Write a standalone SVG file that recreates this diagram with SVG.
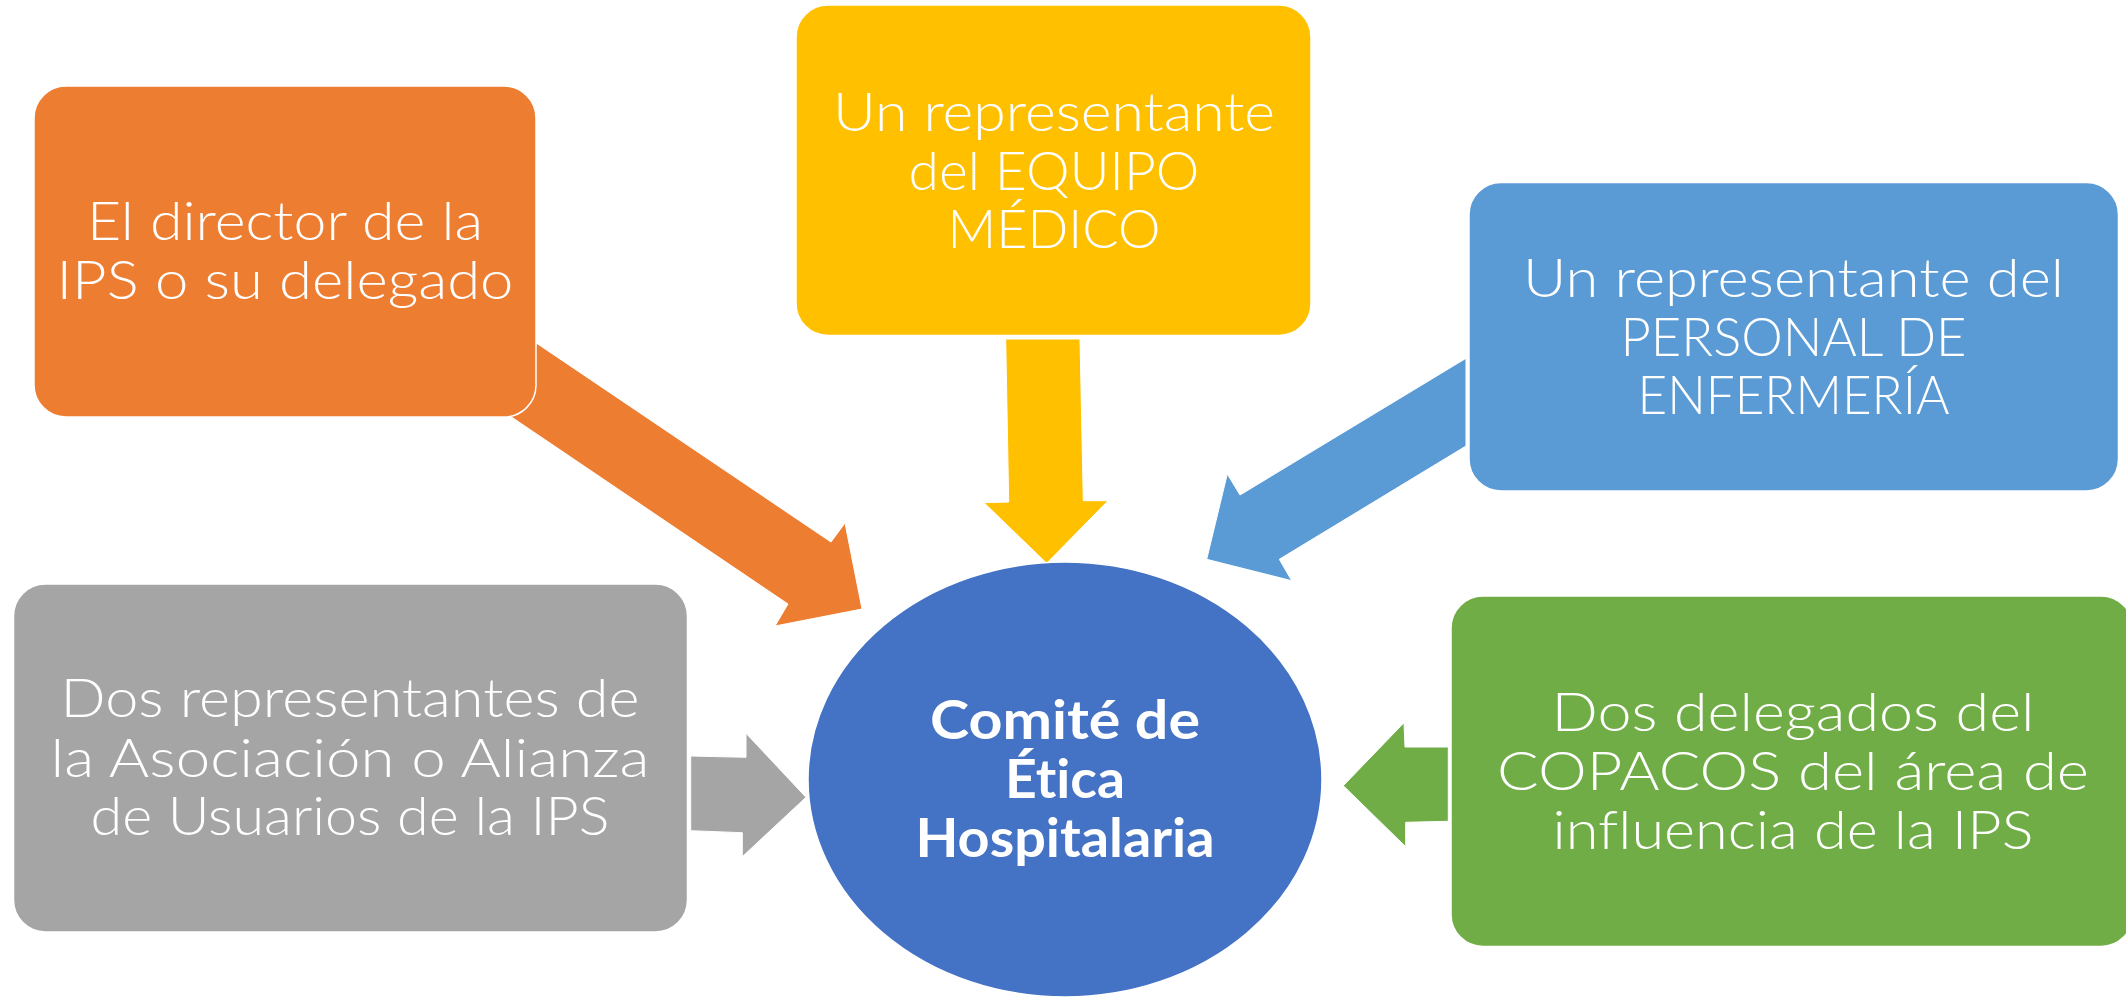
<svg xmlns="http://www.w3.org/2000/svg" width="2126" height="997" viewBox="0 0 2126 997">
<style>
.box{stroke:#ffffff;stroke-width:1.5}
.arr{stroke:#ffffff;stroke-width:1}
.t{font-family:Lato,"Open Sans","Noto Sans","DejaVu Sans",sans-serif;font-weight:300;font-size:53px;fill:#ffffff;text-anchor:middle;font-variant-ligatures:none}
.tb{font-family:Lato,"Liberation Sans",Arial,sans-serif;font-weight:700;font-size:53px;fill:#ffffff;text-anchor:middle;font-variant-ligatures:none}
</style>
<rect width="2126" height="997" fill="#ffffff"/>
<g id="connectors">
<polygon class="arr" fill="#ED7D31" points="500,318.5 831,542 845,523 862,609 775,626 788,604 480,395.7"/>
<polygon class="arr" fill="#FFC000" points="1005.7,339 1080,339 1083.3,500.7 1108,500.7 1046.7,563.3 984,502.7 1008.7,502"/>
<polygon class="arr" fill="#5B9BD5" points="1466,358.3 1240,495 1227.3,474 1206.7,559.3 1291.7,580.7 1279.3,559.3 1466,446"/>
<polygon class="arr" fill="#A5A5A5" points="690.7,756 746,757.3 746,733.3 806,797.3 742.3,856.7 742.3,832.7 690.7,830.7"/>
<polygon class="arr" fill="#70AD47" points="1448.3,747 1405,747 1404,722.7 1343.3,785.7 1405.7,846.7 1405.7,822.3 1448.3,821.3"/>
</g>
<g id="node-director">
<rect class="box" x="34" y="86" width="502" height="331" rx="32" fill="#ED7D31"/>
<text class="t" x="285" y="240" textLength="396" lengthAdjust="spacingAndGlyphs">El director de la</text>
<text class="t" x="285" y="299" textLength="457" lengthAdjust="spacingAndGlyphs">IPS o su delegado</text>
</g>
<g id="node-medico">
<rect class="box" x="796" y="5" width="515" height="330.5" rx="32" fill="#FFC000"/>
<text class="t" x="1054" y="131" textLength="442" lengthAdjust="spacingAndGlyphs">Un representante</text>
<text class="t" x="1054" y="189.5" textLength="291" lengthAdjust="spacingAndGlyphs">del EQUIPO</text>
<text class="t" x="1054" y="248" textLength="213" lengthAdjust="spacingAndGlyphs">MÉDICO</text>
</g>
<g id="node-enfermeria">
<rect class="box" x="1469" y="182.5" width="649.5" height="308.5" rx="32" fill="#5B9BD5"/>
<text class="t" x="1793.5" y="297" textLength="541" lengthAdjust="spacingAndGlyphs">Un representante del</text>
<text class="t" x="1793.5" y="355.5" textLength="346" lengthAdjust="spacingAndGlyphs">PERSONAL DE</text>
<text class="t" x="1793.5" y="413.5" textLength="312" lengthAdjust="spacingAndGlyphs">ENFERMERÍA</text>
</g>
<g id="node-usuarios">
<rect class="box" x="13.5" y="584" width="674" height="348" rx="32" fill="#A5A5A5"/>
<text class="t" x="350" y="717" textLength="579" lengthAdjust="spacingAndGlyphs">Dos representantes de</text>
<text class="t" x="350" y="776.5" textLength="599" lengthAdjust="spacingAndGlyphs">la Asociación o Alianza</text>
<text class="t" x="350" y="835" textLength="519" lengthAdjust="spacingAndGlyphs">de Usuarios de la IPS</text>
</g>
<g id="node-copacos">
<rect class="box" x="1451" y="596" width="682" height="350.5" rx="32" fill="#70AD47"/>
<text class="t" x="1793" y="730.5" textLength="483" lengthAdjust="spacingAndGlyphs">Dos delegados del</text>
<text class="t" x="1793" y="789.5" textLength="592" lengthAdjust="spacingAndGlyphs">COPACOS del área de</text>
<text class="t" x="1793" y="848.5" textLength="481" lengthAdjust="spacingAndGlyphs">influencia de la IPS</text>
</g>
<g id="node-comite">
<ellipse class="box" cx="1065" cy="779.5" rx="257" ry="217.5" fill="#4472C4"/>
<text class="tb" x="1065" y="739" textLength="270" lengthAdjust="spacingAndGlyphs">Comité de</text>
<text class="tb" x="1065" y="798" textLength="120" lengthAdjust="spacingAndGlyphs">Ética</text>
<text class="tb" x="1065" y="857" textLength="299" lengthAdjust="spacingAndGlyphs">Hospitalaria</text>
</g>
</svg>
